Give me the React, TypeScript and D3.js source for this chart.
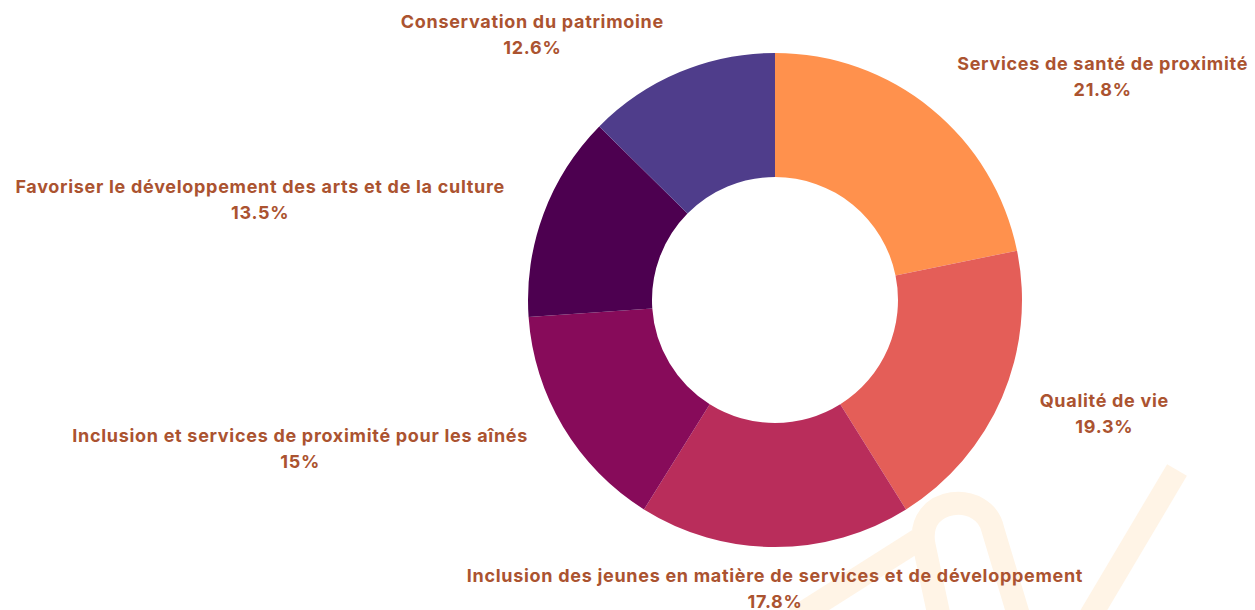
import React from "react";
import { pie, arc, scaleOrdinal, PieArcDatum } from "d3";

const categories = [
  "Services de santé de proximité",
  "Qualité de vie",
  "Inclusion des jeunes en matière de services et de développement",
  "Inclusion et services de proximité pour les aînés",
  "Favoriser le développement des arts et de la culture",
  "Conservation du patrimoine",
];
const shares = [21.8, 19.3, 17.8, 15, 13.5, 12.6];
const shareLabels = ["21.8%", "19.3%", "17.8%", "15%", "13.5%", "12.6%"];
const palette = ["#ff914d", "#e45e58", "#b92d5b", "#870b5a", "#4d0050", "#4f3d8b"];

type Slice = { name: string; value: number; label: string };

const App = () => {
  const width = 1255;
  const height = 610;
  const cx = 775;
  const cy = 300;
  const outerR = 247;
  const innerR = 123;
  const labelR = 288;
  const textColor = "#ab5330";

  const data: Slice[] = categories.map((c, i) => ({
    name: c,
    value: shares[i],
    label: shareLabels[i],
  }));

  const color = scaleOrdinal<string, string>().domain(categories).range(palette);

  const arcs = pie<Slice>()
    .value((d) => d.value)
    .sort(null)(data);

  const arcGen = arc<PieArcDatum<Slice>>().innerRadius(innerR).outerRadius(outerR);

  const slices = arcs.map((a) => (
    <path key={a.data.name} d={arcGen(a) || ""} fill={color(a.data.name)}></path>
  ));

  const labels = arcs.map((a) => {
    const mid = (a.startAngle + a.endAngle) / 2;
    const s = Math.sin(mid);
    const x = labelR * s;
    const y = -labelR * Math.cos(mid);
    const anchor = Math.abs(s) < 0.05 ? "middle" : s > 0 ? "start" : "end";
    return (
      <LabelBlock
        key={a.data.name}
        x={x}
        y={y}
        anchor={anchor}
        title={a.data.name}
        value={a.data.label}
        fill={textColor}
      />
    );
  });

  return (
    <div style={{ position: "absolute", left: 0, top: 0 }}>
      <svg width={width} height={height} viewBox={`0 0 ${width} ${height}`}>
        <rect width={width} height={height} fill="#fff"></rect>
        {/* faint logo watermark */}
        <g fill="none" stroke="#fff4e6" strokeWidth={23} strokeLinecap="butt">
          <path d="M 795 618 L 918 540"></path>
          <path d="M 940 620 L 924 545 C 915 495 985 490 993 530 L 1020 620"></path>
          <path d="M 1177 470 L 1088 620"></path>
        </g>
        <g transform={`translate(${cx},${cy})`}>
          {slices}
          {labels}
        </g>
      </svg>
    </div>
  );
};

// two centred lines; the block is pushed to one side of its anchor point
const LabelBlock = ({ x, y, anchor, title, value, fill }: any) => {
  const ref = React.useRef<SVGGElement>(null);
  const [w, setW] = React.useState(0);
  React.useLayoutEffect(() => {
    if (ref.current) {
      const t = ref.current.querySelector("text");
      if (t) setW((t as SVGTextElement).getBBox().width);
    }
  }, [title]);
  const cxText = anchor === "middle" ? x : anchor === "start" ? x + w / 2 : x - w / 2;
  return (
    <g
      ref={ref}
      fontFamily="Inter, 'Open Sans', sans-serif"
      fontWeight={700}
      fontSize={18}
      letterSpacing={0.7}
      fill={fill}
      textAnchor="middle"
    >
      <text x={cxText} y={y - 13} dominantBaseline="central">{title}</text>
      <text x={cxText} y={y + 13} dominantBaseline="central">{value}</text>
    </g>
  );
};

export default App;
